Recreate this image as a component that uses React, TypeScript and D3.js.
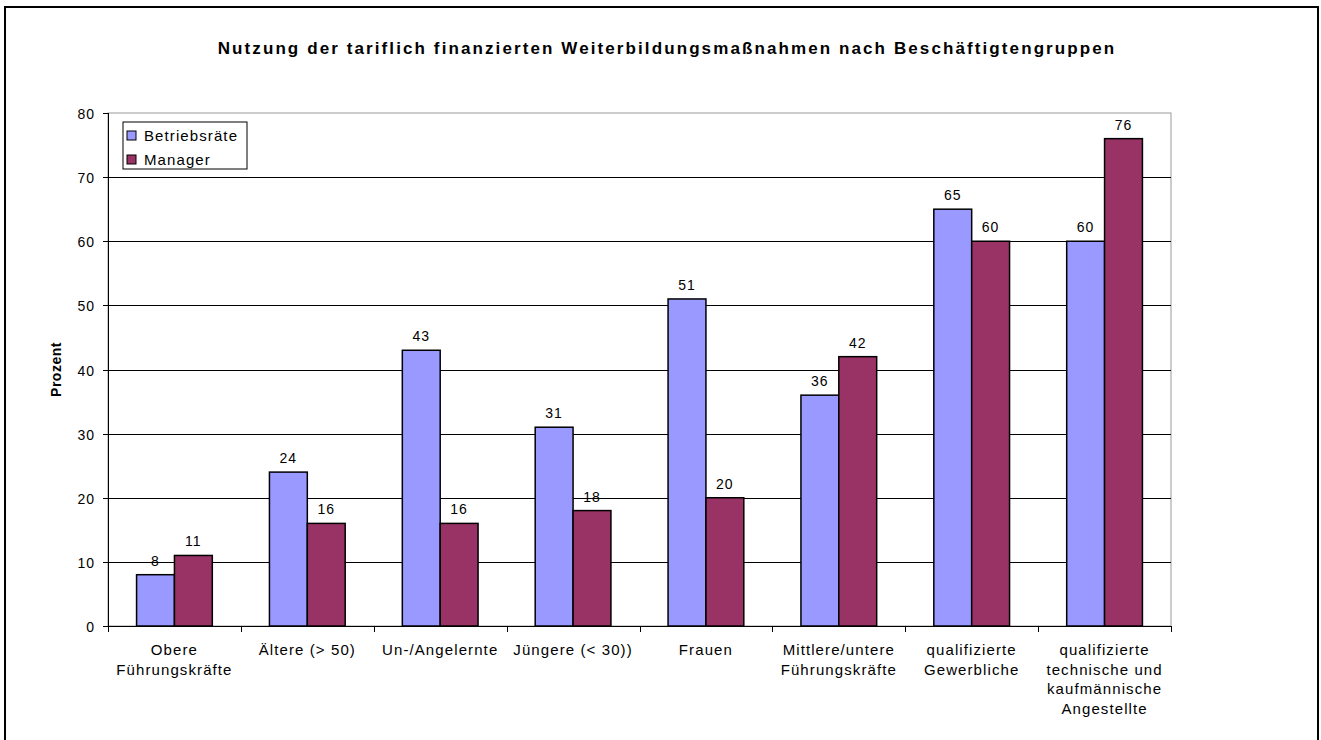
import React, { useEffect, useRef } from "react";
import * as d3 from "d3";

const categories: string[][] = [
  ["Obere", "Führungskräfte"],
  ["Ältere (> 50)"],
  ["Un-/Angelernte"],
  ["Jüngere (< 30))"],
  ["Frauen"],
  ["Mittlere/untere", "Führungskräfte"],
  ["qualifizierte", "Gewerbliche"],
  ["qualifizierte", "technische und", "kaufmännische", "Angestellte"],
];
const seriesNames = ["Betriebsräte", "Manager"];
const betriebsraete = [8, 24, 43, 31, 51, 36, 65, 60];
const manager = [11, 16, 16, 18, 20, 42, 60, 76];
const yTicks = [0, 10, 20, 30, 40, 50, 60, 70, 80];
const colors = ["#9999FF", "#993366"];

const App: React.FC = () => {
  const svgRef = useRef<SVGSVGElement>(null);

  useEffect(() => {
    const width = 1321;
    const height = 740;
    const left = 108, right = 1171, top = 113, bottom = 626;
    const font = "'Liberation Sans', Arial, sans-serif";

    const svg = d3.select(svgRef.current);
    svg.selectAll("*").remove();

    // outer frame
    svg.append("rect")
      .attr("x", 5).attr("y", 7)
      .attr("width", 1313).attr("height", 740)
      .attr("fill", "white").attr("stroke", "black").attr("stroke-width", 2);

    svg.append("text")
      .attr("x", 667).attr("y", 54)
      .attr("text-anchor", "middle")
      .attr("font-family", font).attr("font-size", 17).attr("font-weight", "bold")
      .attr("letter-spacing", 2.1)
      .text("Nutzung der tariflich finanzierten Weiterbildungsmaßnahmen nach Beschäftigtengruppen");

    const y = d3.scaleLinear().domain([0, 80]).range([bottom, top]);
    const x0 = d3.scaleBand<number>().domain(d3.range(categories.length)).range([left, right]).paddingInner(0.43).paddingOuter(0.215);
    const x1 = d3.scaleBand<number>().domain([0, 1]).range([0, x0.bandwidth()]);

    // plot area border (gray)
    svg.append("rect")
      .attr("x", left).attr("y", top)
      .attr("width", right - left).attr("height", bottom - top)
      .attr("fill", "white").attr("stroke", "#999").attr("stroke-width", 1);

    // gridlines
    svg.append("g").selectAll("line")
      .data(yTicks.filter(t => t > 0 && t < 80))
      .join("line")
      .attr("x1", left).attr("x2", right)
      .attr("y1", d => Math.round(y(d)) + 0.5).attr("y2", d => Math.round(y(d)) + 0.5)
      .attr("stroke", "black").attr("stroke-width", 1);

    // bars
    const data = [betriebsraete, manager];
    const g = svg.append("g");
    categories.forEach((_, i) => {
      data.forEach((series, s) => {
        const v = series[i];
        const bx = x0(i)! + x1(s)!;
        g.append("rect")
          .attr("x", bx).attr("y", y(v))
          .attr("width", x1.bandwidth()).attr("height", bottom - y(v))
          .attr("fill", colors[s]).attr("stroke", "black").attr("stroke-width", 1.5);
        g.append("text")
          .attr("x", bx + x1.bandwidth() / 2).attr("y", y(v) - 9)
          .attr("text-anchor", "middle")
          .attr("font-family", font).attr("font-size", 14)
          .attr("letter-spacing", 1)
          .text(v);
      });
    });

    // y axis
    const yAxis = svg.append("g");
    yAxis.append("line")
      .attr("x1", left + 0.5).attr("x2", left + 0.5).attr("y1", top).attr("y2", bottom)
      .attr("stroke", "black");
    yTicks.forEach(t => {
      const yy = Math.round(y(t)) + 0.5;
      yAxis.append("line").attr("x1", left - 5).attr("x2", left).attr("y1", yy).attr("y2", yy).attr("stroke", "black");
      yAxis.append("text")
        .attr("x", left - 13).attr("y", yy + 5)
        .attr("text-anchor", "end")
        .attr("font-family", font).attr("font-size", 14)
        .attr("letter-spacing", 1)
        .text(t);
    });

    // x axis
    const xAxis = svg.append("g");
    xAxis.append("line")
      .attr("x1", left).attr("x2", right).attr("y1", bottom + 0.5).attr("y2", bottom + 0.5)
      .attr("stroke", "black");
    const step = x0.step();
    d3.range(categories.length + 1).forEach(i => {
      const xx = Math.round(left + i * step) + 0.5;
      xAxis.append("line").attr("x1", xx).attr("x2", xx).attr("y1", bottom).attr("y2", bottom + 6).attr("stroke", "black");
    });
    categories.forEach((lines, i) => {
      const cx = x0(i)! + x0.bandwidth() / 2;
      const t = xAxis.append("text")
        .attr("text-anchor", "middle")
        .attr("font-family", font).attr("font-size", 15)
        .attr("letter-spacing", 1.1);
      lines.forEach((ln, k) => {
        t.append("tspan").attr("x", cx).attr("y", 655 + k * 19.5).text(ln);
      });
    });

    // y label
    svg.append("text")
      .attr("transform", `translate(61, ${(top + bottom) / 2}) rotate(-90)`)
      .attr("text-anchor", "middle")
      .attr("font-family", font).attr("font-size", 14).attr("font-weight", "bold")
      .attr("letter-spacing", 0.5)
      .text("Prozent");

    // legend
    const lg = svg.append("g");
    lg.append("rect")
      .attr("x", 123).attr("y", 122).attr("width", 124).attr("height", 47)
      .attr("fill", "white").attr("stroke", "black").attr("stroke-width", 1);
    seriesNames.forEach((name, s) => {
      const ly = 128 + s * 24;
      lg.append("rect")
        .attr("x", 127).attr("y", ly + 3).attr("width", 9).attr("height", 9)
        .attr("fill", colors[s]).attr("stroke", "black").attr("stroke-width", 1);
      lg.append("text")
        .attr("x", 144).attr("y", ly + 13)
        .attr("font-family", font).attr("font-size", 15)
        .attr("letter-spacing", 1.1)
        .text(name);
    });

    svg.attr("width", width).attr("height", height);
  }, []);

  return (
    <svg ref={svgRef} width={1321} height={740} style={{ position: "absolute", left: 0, top: 0 }}></svg>
  );
};

export default App;
